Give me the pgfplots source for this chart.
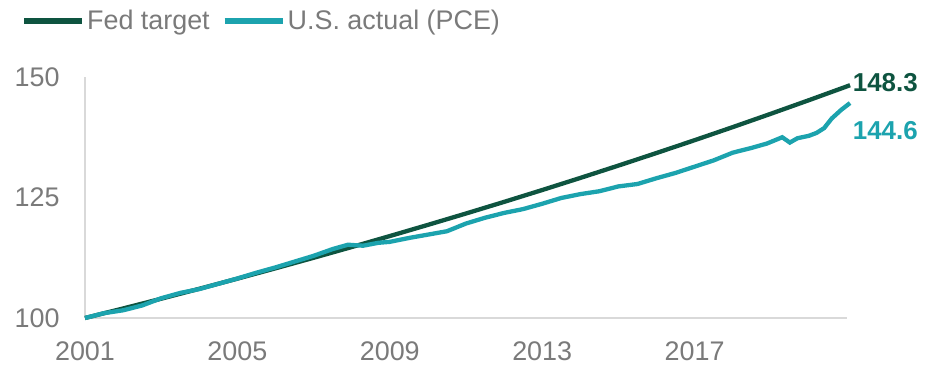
\documentclass[border=0pt]{standalone}
\usepackage{pgfplots}
\pgfplotsset{compat=1.18}
\usepackage{fontspec}
\setmainfont{Liberation Sans}
\definecolor{fedgreen}{HTML}{0E5440}
\definecolor{pceteal}{HTML}{1CA3AE}
\definecolor{txtgray}{HTML}{7A7A7A}
\definecolor{axgray}{HTML}{D9D9D9}
\begin{document}
\begin{tikzpicture}
\begin{axis}[
  name=ax,
  scale only axis,
  width=762bp, height=241bp,
  xmin=2001, xmax=2021, ymin=100, ymax=150,
  clip=false,
  axis lines*=left,
  axis line style={axgray, line width=1.2bp},
  xtick={2001,2005,2009,2013,2017},
  ytick={100,125,150},
  major tick length=0pt,
  /pgf/number format/1000 sep={},
  /pgf/number format/assume math mode=true,
  tick label style={font=\fontsize{27}{30}\selectfont, text=txtgray},
  xticklabel style={yshift=-20bp},
  yticklabel style={xshift=-22bp},
  legend style={at={(-0.088,1.295)}, anchor=north west, draw=none, fill=none,
    font=\fontsize{27}{30}\selectfont\color{txtgray}, legend columns=2,
    /tikz/every even column/.append style={column sep=10bp}},
  legend image code/.code={\draw[#1, line width=6bp] (0,0) -- (58bp,0);},
]
\addplot[fedgreen, line width=4.3bp] coordinates {
(2001,100) (2002,101.98) (2003,104.00) (2004,106.06) (2005,108.16)
(2006,110.31) (2007,112.49) (2008,114.72) (2009,117.00) (2010,119.32)
(2011,121.68) (2012,124.09) (2013,126.55) (2014,129.06) (2015,131.62)
(2016,134.23) (2017,136.89) (2018,139.60) (2019,142.37) (2020,145.19)
(2021,148.06) (2021.08,148.3)
};
\addlegendentry{Fed target}
\addplot[pceteal, line width=4.3bp] coordinates {
(2001.0,100) (2001.5,101.0) (2002.0,101.6) (2002.5,102.6) (2003.0,104.1)
(2003.5,105.2) (2004.0,106.0) (2004.5,107.1) (2005.0,108.2) (2005.5,109.4)
(2006.0,110.5) (2006.5,111.7) (2007.0,112.9) (2007.5,114.3) (2007.9,115.2)
(2008.3,115.0) (2008.7,115.6) (2009.0,115.8) (2009.5,116.6) (2010.0,117.3)
(2010.5,118.0) (2011.0,119.6) (2011.5,120.8) (2012.0,121.8) (2012.5,122.6)
(2013.0,123.7) (2013.5,124.9) (2014.0,125.7) (2014.5,126.3) (2015.0,127.3)
(2015.5,127.8) (2016.0,129.0) (2016.5,130.1) (2017.0,131.4) (2017.5,132.7)
(2018.0,134.3) (2018.5,135.3) (2018.9,136.2) (2019.3,137.5) (2019.5,136.4)
(2019.7,137.3) (2020.0,137.8) (2020.2,138.4) (2020.4,139.4) (2020.6,141.4)
(2020.85,143.2) (2021.08,144.6)
};
\addlegendentry{U.S. actual (PCE)}
\node[anchor=west, font=\bfseries\fontsize{26}{28}\selectfont, text=fedgreen, inner sep=0pt] at (axis cs:2021.15,148.8) {148.3};
\node[anchor=west, font=\bfseries\fontsize{26}{28}\selectfont, text=pceteal, inner sep=0pt] at (axis cs:2021.15,138.8) {144.6};
\end{axis}
\pgfresetboundingbox
\path[use as bounding box] ([shift={(-85bp,-48bp)}]ax.south west) rectangle ([shift={(848bp,318bp)}]ax.south west);
\end{tikzpicture}
\end{document}
